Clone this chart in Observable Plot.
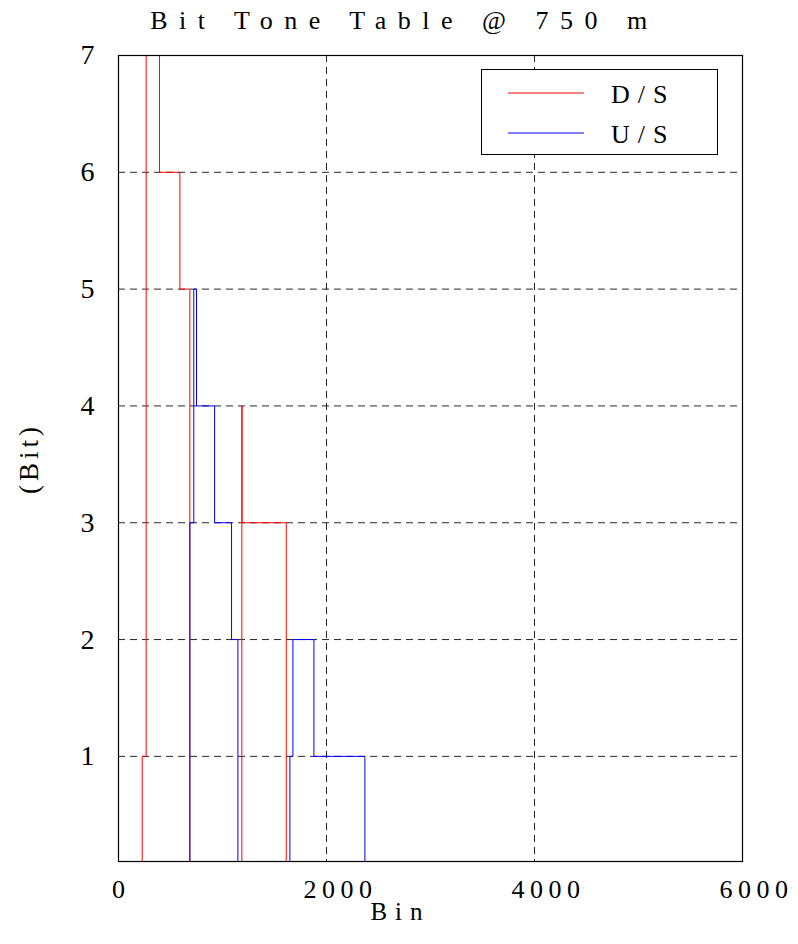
<!DOCTYPE html>
<html>
<head>
<meta charset="utf-8">
<script src="https://cdn.jsdelivr.net/npm/d3@7"></script>
<script src="https://cdn.jsdelivr.net/npm/@observablehq/plot@0.6"></script>
<style>
  html, body { margin: 0; padding: 0; background: #fff; }
  body { width: 798px; height: 944px; position: relative; font-family: "Liberation Serif", "Times New Roman", serif; }
  #title { position: absolute; left: 0; top: 6px; width: 798px; text-align: center; font-size: 26px; letter-spacing: 11.5px; padding-left: 11px; box-sizing: border-box; line-height: 30px; color: #000; z-index: 2; }
  #chart { position: absolute; left: 0; top: 30px; z-index: 1; }
  #chart svg { display: block; }
  #chart [aria-label="x-axis tick label"] text { letter-spacing: 5.5px; }
  #chart [aria-label="y-axis label"] text { letter-spacing: 4px; }
  #legend { position: absolute; left: 481px; top: 69px; z-index: 3; }
</style>
</head>
<body>
<div id="chart"></div>
<div id="title">Bit Tone Table @ 750 m</div>
<div id="legend"></div>
<script>
// ---- data ----
const seriesNames = ["D/S", "U/S"];
const seriesColors = ["#ff0000", "#0000ff"];
// D/S stairs: bin where each step starts, bits from that bin on
const dsBin = [228, 228, 266, 394, 590, 686, 1186, 1188, 1613];
const dsBit = [0, 1, 7, 6, 5, 0, 4, 3, 0];
// U/S stairs
const usBin = [686, 686, 724, 750, 924, 1087, 1148, 1648, 1677, 1879, 2369];
const usBit = [0, 3, 5, 4, 3, 2, 0, 1, 2, 1, 0];
const xTicks = [0, 2000, 4000, 6000];
const yTicks = [1, 2, 3, 4, 5, 6, 7];
const xGrid = [2000, 4000];
const yGrid = [1, 2, 3, 4, 5, 6];
const xLabel = "Bin";
const yLabel = "(Bit)";

const ds = dsBin.map((b, i) => ({bin: b, bit: dsBit[i], s: seriesNames[0]}));
const us = usBin.map((b, i) => ({bin: b, bit: usBit[i], s: seriesNames[1]}));

const fontFam = "Liberation Serif, Times New Roman, serif";

const plot = Plot.plot({
  width: 798,
  height: 914,
  marginTop: 25,
  marginLeft: 118,
  marginRight: 56,
  marginBottom: 83,
  style: {fontFamily: fontFam, color: "#000", background: "transparent"},
  x: {domain: [0, 6000]},
  y: {domain: [0.1, 7]},
  marks: [
    Plot.gridX(xGrid, {stroke: "#000", strokeOpacity: 0.85, strokeDasharray: "7,5"}),
    Plot.gridY(yGrid, {stroke: "#000", strokeOpacity: 0.85, strokeDasharray: "7,5"}),
    Plot.line(ds, {x: "bin", y: "bit", curve: "step-after", stroke: seriesColors[0], strokeWidth: 1, clip: true}),
    Plot.line(us, {x: "bin", y: "bit", curve: "step-after", stroke: seriesColors[1], strokeWidth: 1, clip: true}),
    Plot.frame({stroke: "#000", strokeWidth: 1.2}),
    Plot.axisX({ticks: xTicks, tickSize: 0, tickPadding: 18, fontSize: 26, tickFormat: d => String(d), label: null}),
    Plot.axisY({ticks: yTicks, tickSize: 0, tickPadding: 24, fontSize: 28, tickFormat: d => String(d),
      label: yLabel, labelAnchor: "center", labelArrow: "none", labelOffset: 100}),
    Plot.text([xLabel], {text: d => d, frameAnchor: "bottom", dx: -30, dy: 50, fontSize: 25,
      fill: "#000", lineAnchor: "middle", textAnchor: "middle"})
  ]
});
document.getElementById("chart").appendChild(plot);

// axis label sizes and letter spacing
d3.select(plot).selectAll('[aria-label="y-axis label"] text').attr("font-size", 27);
d3.select(plot).selectAll('[aria-label="text"] text').style("letter-spacing", "8px");

// x tick labels: spaced digits that grow to the right of a narrow centre
d3.select(plot).selectAll('[aria-label="x-axis tick label"] text').each(function() {
  const n = this.textContent.length;
  d3.select(this).attr("text-anchor", "start").attr("dx", -6.5 - (n - 1) * 5.5);
});

// ---- legend inside the plot area ----
const lg = d3.select("#legend").append("svg").attr("width", 238).attr("height", 87);
lg.append("rect").attr("x", 0.5).attr("y", 0.5).attr("width", 236).attr("height", 85)
  .attr("fill", "#fff").attr("stroke", "#000").attr("stroke-width", 1);
seriesNames.forEach((name, i) => {
  const y = 24 + i * 40;
  lg.append("line").attr("x1", 27).attr("x2", 103).attr("y1", y).attr("y2", y)
    .attr("stroke", seriesColors[i]).attr("stroke-width", 1);
  lg.append("text").attr("x", 130).attr("y", y + 10)
    .attr("font-family", fontFam).attr("font-size", 26)
    .style("letter-spacing", "8px")
    .text(name);
});
</script>
</body>
</html>
